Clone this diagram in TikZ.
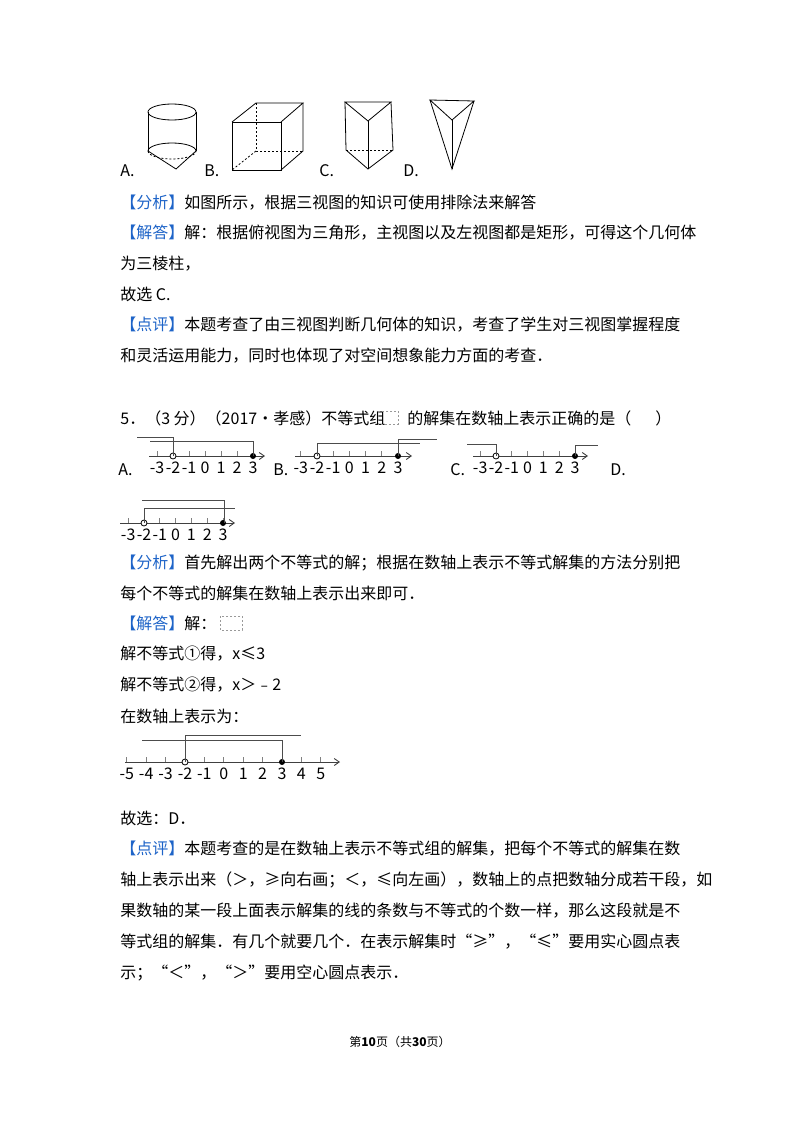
\documentclass[tikz,border=0pt]{standalone}
\usepackage{fontspec}
\setmainfont{Noto Sans CJK SC}
\usetikzlibrary{arrows.meta}
\definecolor{tagblue}{RGB}{30,100,200}
\tikzset{
  line/.style={text=black,anchor=west,inner sep=0pt,font=\fontsize{16}{16}\selectfont},
  num/.style={inner sep=0pt,font=\fontsize{16}{16}\selectfont},
  bar/.style={draw=black!70,line width=.8pt},
  axis/.style={draw=black!75,line width=.9pt,-{Straight Barb[length=5pt,width=7pt]}},
  hid/.style={dashed,dash pattern=on 2pt off 2pt},
}
% zero x, y, unit, lo, hi, start, end
\newcommand{\numline}[7]{
  \draw[axis] (#6,#2) -- (#7,#2);
  \foreach \k in {#4,...,#5} {
    \draw[black!50] ({#1+\k*#3},#2) -- ({#1+\k*#3},#2-5);
    \node[num] at ({#1+\k*#3},#2+12) {\k};
  }
  \draw[fill=white] ({#1-2*#3},#2) circle (3);
  \fill ({#1+3*#3},#2) circle (3);
}
\newcommand{\tag}[1]{\textcolor{tagblue}{【#1】}}
\begin{document}
\begin{tikzpicture}[x=1pt,y=-1pt,line width=.8pt]
\useasboundingbox[fill=white] (0,0) rectangle (800,1132);
% solids
\draw (172,112) ellipse (24 and 8);
\draw (148,112) -- (148,151);
\draw (196,112) -- (196,151);
\draw[hid] (148,151) arc (180:0:24 and 8);
\draw (148,151) arc (180:360:24 and 8);
\draw (148,151) -- (176,169) -- (196,151);
\draw (232,122) rectangle (281,170);
\draw (232,122) -- (256,103) -- (303,103) -- (281,122);
\draw (303,103) -- (303,151) -- (281,170);
\draw[hid] (256,103) -- (256,151) -- (303,151);
\draw[hid] (256,151) -- (232,170);
\draw (345,102) -- (391,102) -- (368,121) -- cycle;
\draw (345,102) -- (346,150) -- (368,169) -- (393,150) -- (391,102);
\draw (368,121) -- (368,169);
\draw[hid] (346,150) -- (393,150);
\draw (430,100) -- (474,101) -- (452,120) -- cycle;
\draw (430,100) -- (452,169) -- (474,101);
\draw (452,120) -- (452,169);
\node[line] at (120,171) {A.};
\node[line] at (204,171) {B.};
\node[line] at (319,171) {C.};
\node[line] at (403,171) {D.};
% answer to question 4
\node[line] at (120,203) {\tag{分析}如图所示，根据三视图的知识可使用排除法来解答};
\node[line] at (120,233) {\tag{解答}解：根据俯视图为三角形，主视图以及左视图都是矩形，可得这个几何体};
\node[line] at (120,264) {为三棱柱，};
\node[line] at (120,294) {故选 C.};
\node[line] at (120,325) {\tag{点评}本题考查了由三视图判断几何体的知识，考查了学生对三视图掌握程度};
\node[line] at (120,356) {和灵活运用能力，同时也体现了对空间想象能力方面的考查．};
% question 5
\node[line] at (120,418) {5．（3 分）（2017•孝感）不等式组\hspace{22pt}的解集在数轴上表示正确的是（\hspace{24pt}）};
\draw[black!40,hid,line width=.5pt] (378,411) rectangle (398,424);
\numline{205}{456}{16}{-3}{3}{149}{265}
\draw[bar] (137,437) -- (173,437) -- (173,456);
\draw[bar] (150,441) -- (253,441) -- (253,456);
\numline{349.4}{456}{16.2}{-3}{3}{295}{412}
\draw[bar] (317,456) -- (317,443) -- (420,443);
\draw[bar] (398,456) -- (398,439) -- (437,439);
\numline{527.6}{456}{15.8}{-3}{3}{473}{588}
\draw[bar] (467,444) -- (496,444) -- (496,456);
\draw[bar] (575,456) -- (575,445) -- (598,445);
\node[line] at (118,470) {A.};
\node[line] at (273,470) {B.};
\node[line] at (450,470) {C.};
\node[line] at (610,470) {D.};
\numline{175.6}{523}{15.8}{-3}{3}{120}{235}
\draw[bar] (142,500) -- (224,500) -- (224,523);
\draw[bar] (144,523) -- (144,508) -- (235,508);
% answer to question 5
\node[line] at (120,563) {\tag{分析}首先解出两个不等式的解；根据在数轴上表示不等式解集的方法分别把};
\node[line] at (120,593) {每个不等式的解集在数轴上表示出来即可．};
\node[line] at (120,623) {\tag{解答}解：};
\draw[black!40,hid,line width=.5pt] (220,616) rectangle (242,630);
\node[line] at (120,654) {解不等式①得，x≤3};
\node[line] at (120,685) {解不等式②得，x＞﹣2};
\node[line] at (120,716) {在数轴上表示为：};
\numline{223.8}{762}{19.4}{-5}{5}{125}{340}
\draw[bar] (185,762) -- (185,735) -- (301,735);
\draw[bar] (142,740) -- (282,740) -- (282,762);
\node[line] at (120,818) {故选：D．};
\node[line] at (120,849) {\tag{点评}本题考查的是在数轴上表示不等式组的解集，把每个不等式的解集在数};
\node[line] at (120,880) {轴上表示出来（＞，≥向右画；＜，≤向左画），数轴上的点把数轴分成若干段，如};
\node[line] at (120,911) {果数轴的某一段上面表示解集的线的条数与不等式的个数一样，那么这段就是不};
\node[line] at (120,942) {等式组的解集．有几个就要几个．在表示解集时“≥”，“≤”要用实心圆点表};
\node[line] at (120,973) {示；“＜”，“＞”要用空心圆点表示．};
\node[inner sep=0pt,font=\fontsize{12}{12}\selectfont] at (400,1042) {第\textbf{10}页（共\textbf{30}页）};
\end{tikzpicture}
\end{document}
